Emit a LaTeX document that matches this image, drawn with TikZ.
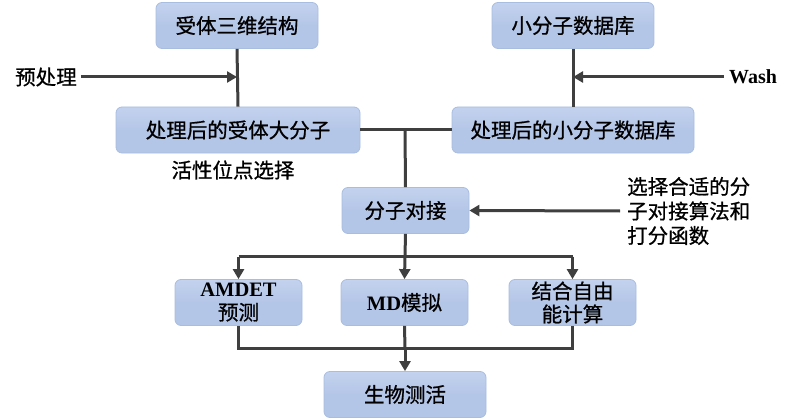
\documentclass[tikz,border=0pt]{standalone}
\usepackage{fontspec}
\setmainfont{Liberation Serif}
\newfontfamily\cjk[FakeBold=0.8]{Noto Sans CJK SC}
\usetikzlibrary{arrows.meta}
\definecolor{boxfill}{HTML}{B4C6E7}
\definecolor{boxtop}{HTML}{C3D2EE}
\definecolor{boxedge}{HTML}{A9BDE0}
\definecolor{linec}{HTML}{3F3F3F}
\begin{document}
\begin{tikzpicture}[x=1pt,y=-1pt,
  bx/.style={draw=boxedge, line width=0.8pt, rounded corners=6pt, top color=boxtop, bottom color=boxfill, middle color=boxfill,
    minimum height=46pt, inner sep=1pt, align=center, font=\cjk\fontsize{20.5}{23}\selectfont, text=black},
  lbl/.style={font=\cjk\fontsize{20.5}{24.5}\selectfont, text=black, align=left, inner sep=0pt},
  ln/.style={draw=linec, line width=3pt},
  ar/.style={ln, -{Triangle[length=10pt,width=11pt]}}]
\useasboundingbox (0,0) rectangle (807,420);
\node[bx, minimum width=162pt] (r3d) at (237,25.5) {受体三维结构};
\node[bx, minimum width=162pt] (sdb) at (573,25.5) {小分子数据库};
\node[bx, minimum width=244pt] (pr) at (238,130) {处理后的受体大分子};
\node[bx, minimum width=242pt] (pl) at (573,130) {处理后的小分子数据库};
\node[bx, minimum width=127pt] (dock) at (405.5,210.5) {分子对接};
\node[bx, minimum width=127pt] (adm) at (238.5,302.5) {{\bfseries\rmfamily AMDET}\\预测};
\node[bx, minimum width=127pt] (md) at (404.5,302.5) {{\bfseries\rmfamily MD}模拟};
\node[bx, minimum width=127pt] (fe) at (572.5,302.5) {结合自由\\能计算};
\node[bx, minimum width=162pt] (bio) at (405,394.5) {生物测活};
\node[lbl, anchor=west] (pre) at (15,77) {预处理};
\node[lbl, anchor=west, font=\rmfamily\bfseries\fontsize{20}{23}\selectfont] (wash) at (729,77) {Wash};
\node[lbl] (act) at (233,170) {活性位点选择};
\node[lbl, anchor=west] (alg) at (627,211) {选择合适的分\\子对接算法和\\打分函数};
\coordinate (j1) at (405,130);
\coordinate (j2) at (405,256.5);
\coordinate (j3) at (405,348.5);
\draw[ln] (r3d.south) -- (pr.north);
\draw[ln] (sdb.south) -- (pl.north);
\draw[ar] (pre.east) ++(4,0) -- (r3d.south |- pre.east);
\draw[ar] (wash.west) ++(-5,0) -- (sdb.south |- wash.west);
\draw[ln] (pr.east) -- (pl.west);
\draw[ln] (j1) -- (dock.north);
\draw[ar] (alg.west) ++(-7,0) -- (dock.east);
\draw[ln] (dock.south) -- (j2);
\draw[ln] (adm.north |- j2) -- (fe.north |- j2);
\draw[ar] (adm.north |- j2) -- (adm.north);
\draw[ar] (j2) -- (md.north);
\draw[ar] (fe.north |- j2) -- (fe.north);
\draw[ln] (adm.south) -- (adm.south |- j3) -- (fe.south |- j3) -- (fe.south);
\draw[ln] (md.south) -- (j3);
\draw[ar] (j3) -- (bio.north);
\end{tikzpicture}
\end{document}
